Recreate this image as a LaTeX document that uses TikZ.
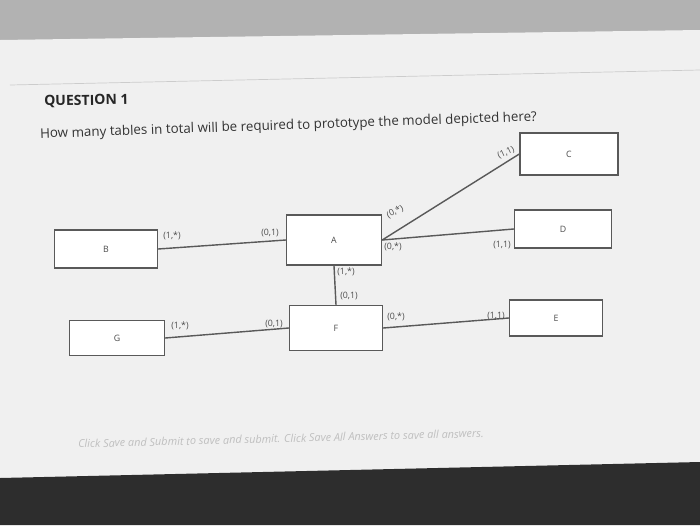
\documentclass[tikz,border=0pt]{standalone}
\usepackage{fontspec}
\setmainfont{Open Sans}
\begin{document}
\begin{tikzpicture}[x=0.02cm,y=-0.02cm,
  ent/.style={draw=gray!70!black,line width=0.8pt,fill=white,inner sep=0pt,font=\tiny,text=gray!60!black},
  lnk/.style={draw=gray!70!black,line width=0.8pt},
  lab/.style={font=\tiny,text=gray!60!black,inner sep=1pt}]
\useasboundingbox (0,0) rectangle (700,525);
\fill[gray!60] (0,0) rectangle (700,525);
\fill[gray!12] (0,40) -- (700,30) -- (700,465) -- (0,480) -- cycle;
\fill[gray!35!black] (0,478) -- (700,462) -- (700,525) -- (0,525) -- cycle;
\draw[gray!40] (10,85) -- (700,70);
\node[anchor=west,font=\bfseries\footnotesize,text=black!85,rotate=1] (q) at (38,102) {QUESTION 1};
\node[anchor=west,font=\fontsize{7.6}{9}\selectfont,text=black!80,rotate=2] (t) at (34,135) {How many tables in total will be required to prototype the model depicted here?};
\node[ent,minimum width=2.06cm,minimum height=0.76cm] (B) at (106,249) {B};
\node[ent,minimum width=1.9cm,minimum height=1cm] (A) at (334,240) {A};
\node[ent,minimum width=1.96cm,minimum height=0.84cm] (C) at (569,154) {C};
\node[ent,minimum width=1.94cm,minimum height=0.76cm] (D) at (563,229) {D};
\node[ent,minimum width=1.9cm,minimum height=0.7cm] (G) at (117,338) {G};
\node[ent,minimum width=1.86cm,minimum height=0.9cm] (F) at (336,328) {F};
\node[ent,minimum width=1.86cm,minimum height=0.72cm] (E) at (556,318) {E};
\draw[lnk] (B.east) -- (A.west);
\draw[lnk] (A.east) -- (D.west);
\draw[lnk] (A.east) -- (C.west);
\draw[lnk] (A.south) -- (F.north);
\draw[lnk] (G.east) -- (F.west);
\draw[lnk] (F.east) -- (E.west);
\node[lab] (l1) at (172,236) {(1,*)};
\node[lab] (l2) at (270,233) {(0,1)};
\node[lab,rotate=25] (l3) at (395,212) {(0,*)};
\node[lab] (l4) at (393,247) {(0,*)};
\node[lab,rotate=25] (l5) at (506,153) {(1,1)};
\node[lab] (l6) at (502,245) {(1,1)};
\node[lab] (l7) at (346,272) {(1,*)};
\node[lab] (l8) at (349,296) {(0,1)};
\node[lab] (l9) at (180,326) {(1,*)};
\node[lab] (l10) at (274,324) {(0,1)};
\node[lab] (l11) at (396,317) {(0,*)};
\node[lab] (l12) at (496,316) {(1,1)};
\node[anchor=west,font=\fontsize{6.2}{7}\selectfont\itshape,text=gray!50,rotate=1.5] (f) at (72,444) {Click Save and Submit to save and submit. Click Save All Answers to save all answers.};
\end{tikzpicture}
\end{document}
